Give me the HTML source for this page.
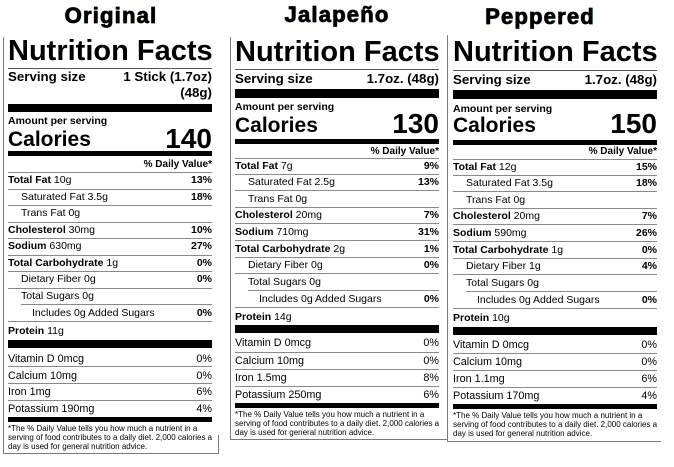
<!DOCTYPE html>
<html><head><meta charset="utf-8">
<style>
html,body{margin:0;padding:0}
body{width:674px;height:467px;background:#fff;position:relative;overflow:hidden;font-family:"Liberation Sans",Arial,sans-serif;color:#000}
.a{position:absolute;white-space:nowrap}
.lab{position:absolute;top:0;width:204px;height:467px}
.nf{font-weight:bold;font-size:29px;line-height:29px;left:0}
.hl{position:absolute;left:0;right:0;height:1px;background:#8a8a8a}
.bar{position:absolute;left:0;right:0;background:#000}
.r{position:absolute;left:0;right:0;height:12px;font-size:10.5px;line-height:12px;display:flex;justify-content:space-between;white-space:nowrap}
.r b{font-weight:bold}
.v{font-size:10.8px}
.fn{position:absolute;left:0;font-size:8px;line-height:9px;white-space:nowrap}
.sv{font-weight:bold;font-size:13.3px;line-height:14px}
.amt{font-weight:bold;font-size:10.5px;line-height:12px;left:0}
.cal{font-weight:bold;font-size:21px;line-height:21px;left:0}
.big{font-weight:bold;font-size:28px;line-height:28px}
.dv{font-weight:bold;font-size:10px;line-height:12px}
.i1{padding-left:13px}
.i2{padding-left:24px}
.bd{position:absolute;background:#7a7a7a}
.ttl{position:absolute;font-weight:bold;font-size:22px;line-height:22px;letter-spacing:1.2px;-webkit-text-stroke:0.7px #000;transform:translateX(-50%);white-space:nowrap;text-shadow:-0.6px 0 rgba(210,130,0,.55),0.6px 0 rgba(0,70,170,.55)}
</style></head>
<body>

<div class="ttl" style="left:111px;top:5px">Original</div>
<div class="ttl" style="left:337px;top:4px">Jalapeño</div>
<div class="ttl" style="left:540px;top:6px">Peppered</div>

<!-- borders -->
<div class="bd" style="left:3px;top:37px;width:1px;height:417px"></div>
<div class="bd" style="left:3px;top:453px;width:216px;height:1px"></div>
<div class="bd" style="left:218px;top:435px;width:1px;height:19px"></div>

<div class="bd" style="left:230px;top:37px;width:1px;height:403px"></div>
<div class="bd" style="left:230px;top:439px;width:217px;height:1px"></div>

<div class="bd" style="left:447px;top:35px;width:1px;height:407px"></div>
<div class="bd" style="left:447px;top:441px;width:214px;height:1px"></div>

<!-- Label 1 -->
<div class="lab" style="left:8px">
  <div class="a nf" style="top:37px">Nutrition Facts</div>
  <div class="hl" style="top:68px;background:#555"></div>
  <div class="a sv" style="top:70px;left:0">Serving size</div>
  <div class="a sv" style="top:70px;right:0">1 Stick (1.7oz)</div>
  <div class="a sv" style="top:86px;right:0">(48g)</div>
  <div class="bar" style="top:104px;height:8px"></div>
  <div class="a amt" style="top:115px">Amount per serving</div>
  <div class="a cal" style="top:129px">Calories</div>
  <div class="a big" style="top:125px;right:0">140</div>
  <div class="bar" style="top:151px;height:5px"></div>
  <div class="a dv" style="top:159px;right:0">% Daily Value*</div>
  <div class="hl" style="top:172px"></div>

  <div class="r" style="top:174px"><span><b>Total Fat</b> 10g</span><b>13%</b></div>
  <div class="hl" style="top:189px"></div>
  <div class="r" style="top:191px"><span class="i1">Saturated Fat 3.5g</span><b>18%</b></div>
  <div class="hl" style="top:205px"></div>
  <div class="r" style="top:207px"><span class="i1">Trans Fat 0g</span></div>
  <div class="hl" style="top:222px"></div>
  <div class="r" style="top:224px"><span><b>Cholesterol</b> 30mg</span><b>10%</b></div>
  <div class="hl" style="top:238px"></div>
  <div class="r" style="top:240px"><span><b>Sodium</b> 630mg</span><b>27%</b></div>
  <div class="hl" style="top:255px"></div>
  <div class="r" style="top:257px"><span><b>Total Carbohydrate</b> 1g</span><b>0%</b></div>
  <div class="hl" style="top:271px"></div>
  <div class="r" style="top:273px"><span class="i1">Dietary Fiber 0g</span><b>0%</b></div>
  <div class="hl" style="top:288px"></div>
  <div class="r" style="top:290px"><span class="i1">Total Sugars 0g</span></div>
  <div class="hl" style="top:304px;left:13px"></div>
  <div class="r" style="top:307px"><span class="i2">Includes 0g Added Sugars</span><b>0%</b></div>
  <div class="hl" style="top:321px"></div>
  <div class="r" style="top:325px"><span><b>Protein</b> 11g</span></div>
  <div class="bar" style="top:340px;height:8px"></div>
  <div class="r v" style="top:353px"><span>Vitamin D 0mcg</span><span>0%</span></div>
  <div class="hl" style="top:366px"></div>
  <div class="r v" style="top:370px"><span>Calcium 10mg</span><span>0%</span></div>
  <div class="hl" style="top:383px"></div>
  <div class="r v" style="top:386px"><span>Iron 1mg</span><span>6%</span></div>
  <div class="hl" style="top:400px"></div>
  <div class="r v" style="top:403px"><span>Potassium 190mg</span><span>4%</span></div>
  <div class="bar" style="top:417px;height:5px"></div>
  <div class="fn" style="top:424px">*The % Daily Value tells you how much a nutrient in a<br>serving of food contributes to a daily diet. 2,000 calories a<br>day is used for general nutrition advice.</div>
</div>

<!-- Label 2 -->
<div class="lab" style="left:235px">
  <div class="a nf" style="top:38px">Nutrition Facts</div>
  <div class="hl" style="top:69px;background:#555"></div>
  <div class="a sv" style="top:72px;left:0">Serving size</div>
  <div class="a sv" style="top:72px;right:0">1.7oz. (48g)</div>
  <div class="bar" style="top:89px;height:9px"></div>
  <div class="a amt" style="top:101px">Amount per serving</div>
  <div class="a cal" style="top:115px">Calories</div>
  <div class="a big" style="top:110px;right:0">130</div>
  <div class="bar" style="top:139px;height:5px"></div>
  <div class="a dv" style="top:146px;right:0">% Daily Value*</div>
  <div class="hl" style="top:158px"></div>

  <div class="r" style="top:160px"><span><b>Total Fat</b> 7g</span><b>9%</b></div>
  <div class="hl" style="top:174px"></div>
  <div class="r" style="top:176px"><span class="i1">Saturated Fat 2.5g</span><b>13%</b></div>
  <div class="hl" style="top:190px"></div>
  <div class="r" style="top:193px"><span class="i1">Trans Fat 0g</span></div>
  <div class="hl" style="top:207px"></div>
  <div class="r" style="top:209px"><span><b>Cholesterol</b> 20mg</span><b>7%</b></div>
  <div class="hl" style="top:223px"></div>
  <div class="r" style="top:226px"><span><b>Sodium</b> 710mg</span><b>31%</b></div>
  <div class="hl" style="top:240px"></div>
  <div class="r" style="top:243px"><span><b>Total Carbohydrate</b> 2g</span><b>1%</b></div>
  <div class="hl" style="top:257px"></div>
  <div class="r" style="top:259px"><span class="i1">Dietary Fiber 0g</span><b>0%</b></div>
  <div class="hl" style="top:273px"></div>
  <div class="r" style="top:276px"><span class="i1">Total Sugars 0g</span></div>
  <div class="hl" style="top:290px;left:13px"></div>
  <div class="r" style="top:293px"><span class="i2">Includes 0g Added Sugars</span><b>0%</b></div>
  <div class="hl" style="top:307px"></div>
  <div class="r" style="top:311px"><span><b>Protein</b> 14g</span></div>
  <div class="bar" style="top:325px;height:8px"></div>
  <div class="r v" style="top:337px"><span>Vitamin D 0mcg</span><span>0%</span></div>
  <div class="hl" style="top:352px"></div>
  <div class="r v" style="top:355px"><span>Calcium 10mg</span><span>0%</span></div>
  <div class="hl" style="top:369px"></div>
  <div class="r v" style="top:372px"><span>Iron 1.5mg</span><span>8%</span></div>
  <div class="hl" style="top:386px"></div>
  <div class="r v" style="top:389px"><span>Potassium 250mg</span><span>6%</span></div>
  <div class="bar" style="top:403px;height:5px"></div>
  <div class="fn" style="top:410px">*The % Daily Value tells you how much a nutrient in a<br>serving of food contributes to a daily diet. 2,000 calories a<br>day is used for general nutrition advice.</div>
</div>

<!-- Label 3 -->
<div class="lab" style="left:453px">
  <div class="a nf" style="top:38px">Nutrition Facts</div>
  <div class="hl" style="top:70px;background:#555"></div>
  <div class="a sv" style="top:73px;left:0">Serving size</div>
  <div class="a sv" style="top:73px;right:0">1.7oz. (48g)</div>
  <div class="bar" style="top:90px;height:9px"></div>
  <div class="a amt" style="top:103px">Amount per serving</div>
  <div class="a cal" style="top:115px">Calories</div>
  <div class="a big" style="top:110px;right:0">150</div>
  <div class="bar" style="top:140px;height:5px"></div>
  <div class="a dv" style="top:146px;right:0">% Daily Value*</div>
  <div class="hl" style="top:159px"></div>

  <div class="r" style="top:161px"><span><b>Total Fat</b> 12g</span><b>15%</b></div>
  <div class="hl" style="top:175px"></div>
  <div class="r" style="top:177px"><span class="i1">Saturated Fat 3.5g</span><b>18%</b></div>
  <div class="hl" style="top:191px"></div>
  <div class="r" style="top:194px"><span class="i1">Trans Fat 0g</span></div>
  <div class="hl" style="top:208px"></div>
  <div class="r" style="top:210px"><span><b>Cholesterol</b> 20mg</span><b>7%</b></div>
  <div class="hl" style="top:224px"></div>
  <div class="r" style="top:227px"><span><b>Sodium</b> 590mg</span><b>26%</b></div>
  <div class="hl" style="top:241px"></div>
  <div class="r" style="top:244px"><span><b>Total Carbohydrate</b> 1g</span><b>0%</b></div>
  <div class="hl" style="top:258px"></div>
  <div class="r" style="top:260px"><span class="i1">Dietary Fiber 1g</span><b>4%</b></div>
  <div class="hl" style="top:274px"></div>
  <div class="r" style="top:277px"><span class="i1">Total Sugars 0g</span></div>
  <div class="hl" style="top:291px;left:13px"></div>
  <div class="r" style="top:294px"><span class="i2">Includes 0g Added Sugars</span><b>0%</b></div>
  <div class="hl" style="top:308px"></div>
  <div class="r" style="top:312px"><span><b>Protein</b> 10g</span></div>
  <div class="bar" style="top:327px;height:8px"></div>
  <div class="r v" style="top:339px"><span>Vitamin D 0mcg</span><span>0%</span></div>
  <div class="hl" style="top:353px"></div>
  <div class="r v" style="top:356px"><span>Calcium 10mg</span><span>0%</span></div>
  <div class="hl" style="top:370px"></div>
  <div class="r v" style="top:373px"><span>Iron 1.1mg</span><span>6%</span></div>
  <div class="hl" style="top:387px"></div>
  <div class="r v" style="top:390px"><span>Potassium 170mg</span><span>4%</span></div>
  <div class="bar" style="top:404px;height:5px"></div>
  <div class="fn" style="top:411px">*The % Daily Value tells you how much a nutrient in a<br>serving of food contributes to a daily diet. 2,000 calories a<br>day is used for general nutrition advice.</div>
</div>

</body></html>
